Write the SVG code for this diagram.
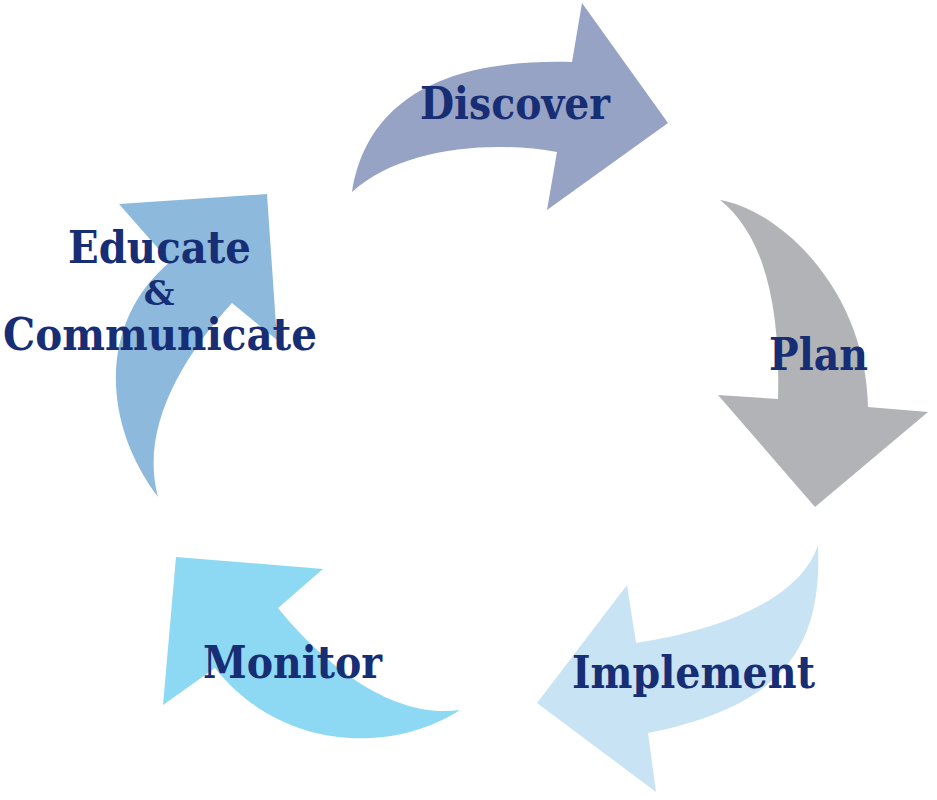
<svg xmlns="http://www.w3.org/2000/svg" width="937" height="800" viewBox="0 0 937 800">
<style>
.lbl{font-family:"DejaVu Serif","Liberation Serif",serif;font-weight:bold;font-size:44px;fill:#172d74}
</style>
<rect width="937" height="800" fill="#ffffff"/>
<g id="connectors">
<path id="arrow-discover" fill="#97a3c4" d="M352,192 C365,110 430,58 572,62 L582,3 L668,123 L547,210 L557,152 C490,140 400,148 352,192 Z"/>
<path id="arrow-plan" fill="#b1b3b6" d="M720,200 C780,210 866,290 868,407 L928,412 L815,507 L718,395 L778,399 C780,320 770,240 720,200 Z"/>
<path id="arrow-implement" fill="#c8e3f4" d="M818,545 C822,640 790,705 648,733 L656,792 L537,703 L627,585 L636,643 C720,630 800,600 818,545 Z"/>
<path id="arrow-monitor" fill="#8dd8f2" d="M460,710 C390,755 280,750 215,668 L163,705 L176,557 L323,569 L278,608 C320,660 390,720 460,710 Z"/>
<path id="arrow-educate" fill="#8cb9dc" d="M158,497 C100,420 100,320 170,262 L119,204 L267,194 L277,340 L232,303 C180,360 140,430 158,497 Z"/>
</g>
<g id="node-discover"><text class="lbl" x="420" y="119" textLength="190" lengthAdjust="spacingAndGlyphs">Discover</text></g>
<g id="node-plan"><text class="lbl" x="769" y="370" textLength="99" lengthAdjust="spacingAndGlyphs">Plan</text></g>
<g id="node-implement"><text class="lbl" x="572" y="688" textLength="243" lengthAdjust="spacingAndGlyphs">Implement</text></g>
<g id="node-monitor"><text class="lbl" x="203" y="678" textLength="179" lengthAdjust="spacingAndGlyphs">Monitor</text></g>
<g id="node-educate">
<text class="lbl" x="68" y="263" textLength="183" lengthAdjust="spacingAndGlyphs">Educate</text>
<text class="lbl" x="159" y="305" text-anchor="middle" style="font-size:34px">&amp;</text>
<text class="lbl" x="3" y="350" textLength="314" lengthAdjust="spacingAndGlyphs">Communicate</text>
</g>
</svg>
